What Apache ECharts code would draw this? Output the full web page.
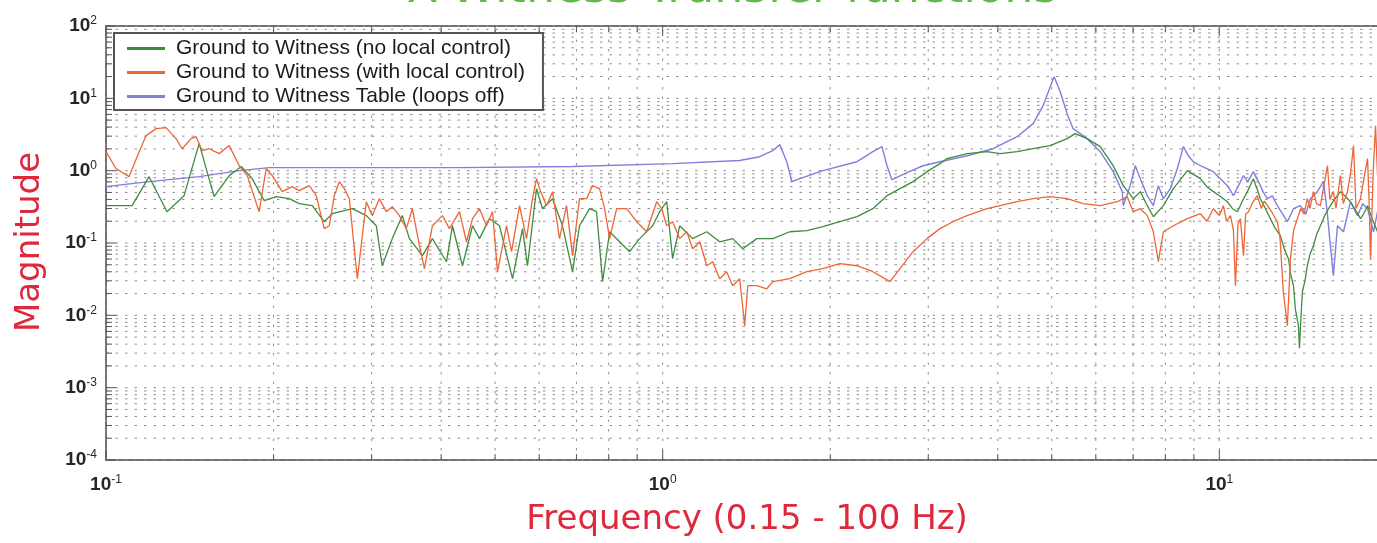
<!DOCTYPE html>
<html>
<head>
<meta charset="utf-8">
<script src="https://cdn.jsdelivr.net/npm/echarts@6/dist/echarts.min.js"></script>
<style>
  html, body { margin: 0; padding: 0; background: #ffffff; overflow: hidden; }
  /* the plot runs on past the right edge of the page, up to 100 Hz */
  #chart { width: 1800px; height: 543px; }
</style>
</head>
<body>
<div id="chart"></div>
<script>
// ---- series names -------------------------------------------------------
const nameNoLocal = 'Ground to Witness (no local control)';
const nameLocal = 'Ground to Witness (with local control)';
const nameTable = 'Ground to Witness Table (loops off)';

// ---- Ground to Witness, no local control (Hz, magnitude) ----------------
const freqGreen = [
  0.1, 0.1114, 0.1195, 0.1287, 0.1381, 0.147, 0.1564, 0.1665, 0.175, 0.183,
  0.1924, 0.2022, 0.2134, 0.2224, 0.2347, 0.2466, 0.255, 0.277, 0.2935, 0.3059,
  0.3135, 0.3268, 0.3407, 0.3508, 0.3702, 0.3858, 0.4089, 0.4192, 0.4369, 0.4554,
  0.4688, 0.4886, 0.5092, 0.5374, 0.5601, 0.5717, 0.5935, 0.6084, 0.6341, 0.6608,
  0.6888, 0.709, 0.7391, 0.7608, 0.78, 0.803, 0.837, 0.8722, 0.9092, 0.9594,
  0.9876, 1.017, 1.042, 1.073, 1.132, 1.2, 1.266, 1.336, 1.393, 1.476,
  1.577, 1.692, 1.816, 1.94, 2.081, 2.234, 2.386, 2.529, 2.669, 2.817,
  2.984, 3.149, 3.241, 3.522, 3.825, 4.037, 4.333, 4.629, 4.966, 5.328,
  5.508, 5.788, 6.109, 6.447, 6.721, 7.005, 7.212, 7.424, 7.611, 7.933,
  8.268, 8.761, 9.245, 9.5, 9.755, 10.0, 10.34, 10.55, 10.78, 11.0,
  11.23, 11.51, 11.7, 11.85, 12.1, 12.35, 12.6, 12.87, 13.1, 13.31,
  13.45, 13.59, 13.7, 13.87, 13.93, 14.0, 14.1, 14.25, 14.39, 14.55,
  14.76, 14.95, 15.19, 15.5, 15.83, 16.1, 16.5, 16.8, 17.2, 17.5,
  17.93, 18.2, 18.46, 18.8, 19.24
];
const magGreen = [
  0.328, 0.328, 0.826, 0.271, 0.451, 2.36, 0.437, 0.853, 1.14, 0.775,
  0.385, 0.437, 0.41, 0.35, 0.328, 0.197, 0.254, 0.298, 0.239, 0.173,
  0.0485, 0.115, 0.239, 0.115, 0.0668, 0.115, 0.0551, 0.173, 0.0485, 0.173,
  0.115, 0.217, 0.173, 0.0321, 0.158, 0.0485, 0.564, 0.298, 0.41, 0.173,
  0.0401, 0.173, 0.298, 0.271, 0.0292, 0.143, 0.104, 0.0758, 0.115, 0.173,
  0.271, 0.372, 0.0607, 0.173, 0.115, 0.143, 0.104, 0.115, 0.0834, 0.115,
  0.115, 0.143, 0.148, 0.168, 0.197, 0.231, 0.298, 0.451, 0.564, 0.705,
  0.969, 1.25, 1.47, 1.72, 1.83, 1.72, 1.83, 2.01, 2.22, 2.77,
  3.25, 2.77, 2.15, 1.17, 0.621, 0.41, 0.513, 0.328, 0.231, 0.328,
  0.564, 1.0, 0.775, 0.6, 0.513, 0.45, 0.372, 0.3, 0.271, 0.38,
  0.513, 0.775, 0.55, 0.41, 0.3, 0.217, 0.16, 0.126, 0.08, 0.0607,
  0.035, 0.0257, 0.012, 0.00718, 0.0035, 0.008, 0.0212, 0.03, 0.0485, 0.07,
  0.0918, 0.13, 0.173, 0.25, 0.328, 0.4, 0.513, 0.45, 0.372, 0.3,
  0.217, 0.26, 0.328, 0.22, 0.143
];

// ---- Ground to Witness, with local control ------------------------------
const freqOrange = [
  0.1, 0.1042, 0.11, 0.1147, 0.118, 0.123, 0.1282, 0.1336, 0.137, 0.1422,
  0.1452, 0.1488, 0.1532, 0.1597, 0.1665, 0.1735, 0.1794, 0.1884, 0.194, 0.1989,
  0.2073, 0.216, 0.2224, 0.2318, 0.2386, 0.2466, 0.2518, 0.2571, 0.2625, 0.268,
  0.2736, 0.2828, 0.2935, 0.3009, 0.3097, 0.3188, 0.3268, 0.3365, 0.3463, 0.3551,
  0.3656, 0.3733, 0.3858, 0.4021, 0.414, 0.4315, 0.4442, 0.4554, 0.4688, 0.4825,
  0.4947, 0.505, 0.5242, 0.5352, 0.5532, 0.5693, 0.5837, 0.5935, 0.6009, 0.6185,
  0.6341, 0.6527, 0.6719, 0.6888, 0.709, 0.73, 0.7483, 0.7703, 0.7865, 0.803,
  0.8266, 0.8616, 0.898, 0.936, 0.9754, 0.9958, 1.017, 1.042, 1.073, 1.105,
  1.132, 1.166, 1.2, 1.23, 1.266, 1.303, 1.336, 1.375, 1.404, 1.422,
  1.476, 1.538, 1.577, 1.692, 1.816, 1.94, 2.081, 2.234, 2.386, 2.561,
  2.669, 2.817, 2.984, 3.149, 3.324, 3.522, 3.825, 4.037, 4.333, 4.629,
  4.966, 5.328, 5.693, 6.109, 6.555, 6.833, 7.005, 7.212, 7.424, 7.611,
  7.77, 7.933, 8.268, 8.761, 9.245, 9.5, 9.755, 10.0, 10.17, 10.3,
  10.47, 10.6, 10.69, 10.8, 10.91, 11.05, 11.15, 11.28, 11.45, 11.7,
  11.9, 12.05, 12.2, 12.45, 12.71, 12.85, 13.03, 13.25, 13.42, 13.6,
  13.81, 14.0, 14.2, 14.39, 14.55, 14.76, 14.95, 15.19, 15.4, 15.64,
  15.8, 16.03, 16.2, 16.5, 16.7, 16.99, 17.2, 17.42, 17.6, 17.93,
  18.2, 18.46, 18.6, 18.69, 18.9, 19.08, 19.24
];
const magOrange = [
  1.83, 1.07, 0.826, 1.83, 3.05, 3.81, 3.93, 2.77, 2.01, 2.77,
  2.95, 1.89, 2.01, 1.72, 2.22, 1.17, 0.853, 0.271, 1.07, 0.853,
  0.513, 0.601, 0.529, 0.621, 0.451, 0.158, 0.173, 0.451, 0.705, 0.564,
  0.41, 0.0321, 0.372, 0.239, 0.41, 0.271, 0.318, 0.239, 0.158, 0.298,
  0.0918, 0.0441, 0.173, 0.239, 0.158, 0.271, 0.104, 0.217, 0.298, 0.173,
  0.271, 0.0401, 0.173, 0.0758, 0.328, 0.115, 0.41, 0.775, 0.564, 0.328,
  0.513, 0.115, 0.328, 0.0668, 0.41, 0.41, 0.621, 0.564, 0.298, 0.115,
  0.298, 0.298, 0.197, 0.143, 0.372, 0.298, 0.173, 0.197, 0.115, 0.143,
  0.0834, 0.104, 0.0485, 0.0551, 0.0321, 0.0401, 0.0257, 0.0321, 0.00718, 0.0257,
  0.0257, 0.0233, 0.0292, 0.0321, 0.0401, 0.0441, 0.0517, 0.0485, 0.0401, 0.0292,
  0.0441, 0.0758, 0.115, 0.158, 0.197, 0.239, 0.298, 0.328, 0.372, 0.41,
  0.437, 0.41, 0.35, 0.328, 0.372, 0.437, 0.271, 0.298, 0.239, 0.143,
  0.0551, 0.143, 0.173, 0.217, 0.254, 0.2, 0.298, 0.24, 0.328, 0.2,
  0.239, 0.15, 0.0257, 0.18, 0.217, 0.0668, 0.25, 0.271, 0.35, 0.451,
  0.3, 0.38, 0.328, 0.26, 0.197, 0.12, 0.0212, 0.00718, 0.0607, 0.15,
  0.217, 0.3, 0.25, 0.41, 0.3, 0.513, 0.35, 0.328, 0.6, 1.17,
  0.4, 0.513, 0.3, 0.853, 0.35, 0.513, 0.9, 2.22, 0.3, 0.41,
  0.8, 1.47, 0.3, 0.0607, 1.0, 4.19, 0.853
];

// ---- Ground to Witness Table, loops off ---------------------------------
const freqBlue = [
  0.1, 0.1195, 0.147, 0.1735, 0.1965, 0.4315, 0.689, 1.042, 1.375, 1.494,
  1.577, 1.623, 1.671, 1.706, 1.764, 1.94, 2.234, 2.386, 2.477, 2.529,
  2.582, 2.747, 2.935, 3.149, 3.522, 3.922, 4.333, 4.629, 4.825, 5.008,
  5.049, 5.176, 5.328, 5.462, 5.788, 6.109, 6.447, 6.693, 6.721, 6.918,
  7.063, 7.212, 7.424, 7.611, 7.77, 7.933, 8.166, 8.406, 8.618, 8.797,
  8.981, 9.245, 9.755, 10.0, 10.34, 10.6, 10.8, 11.05, 11.25, 11.51,
  11.85, 12.0, 12.2, 12.45, 12.71, 13.0, 13.25, 13.59, 13.98, 14.3,
  14.57, 15.0, 15.38, 15.6, 15.83, 16.03, 16.3, 16.71, 17.0, 17.2,
  17.71, 18.1, 18.46, 18.92, 19.24
];
const magBlue = [
  0.601, 0.705, 0.826, 1.0, 1.10, 1.10, 1.14, 1.25, 1.38, 1.56,
  1.89, 2.29, 1.33, 0.705, 0.775, 1.0, 1.33, 1.83, 2.15, 1.17,
  0.751, 0.938, 1.17, 1.33, 1.61, 2.01, 2.95, 4.47, 7.93, 17.0,
  19.95, 12.4, 6.14, 3.81, 2.77, 1.83, 0.969, 0.513, 0.328, 0.621,
  1.17, 0.775, 0.451, 0.328, 0.621, 0.41, 0.564, 1.07, 2.15, 1.61,
  1.33, 1.17, 0.969, 0.8, 0.621, 0.451, 0.6, 0.853, 0.7, 0.969,
  0.621, 0.5, 0.41, 0.45, 0.328, 0.25, 0.197, 0.298, 0.328, 0.25,
  0.41, 0.513, 0.705, 0.3, 0.0918, 0.0353, 0.173, 0.143, 0.25, 0.372,
  0.239, 0.35, 0.298, 0.143, 0.271
];

// ---- axes ---------------------------------------------------------------
const X_MIN = 0.1, X_MAX = 100;
const Y_MIN = 1e-4, Y_MAX = 1e2;
const xTickValues = [0.1, 1, 10, 100];
const yTickValues = [1e-4, 1e-3, 1e-2, 1e-1, 1, 10, 100];

// grid / tick positions: 1..9 times every decade
function decadeSteps(lo, hi) {
  const out = [];
  for (let d = lo; d < hi * 0.999; d *= 10) {
    for (let k = 1; k <= 9; k++) out.push(+(d * k).toPrecision(6));
  }
  out.push(hi);
  return out;
}
const xGridValues = decadeSteps(X_MIN, X_MAX);
const yGridValues = decadeSteps(Y_MIN, Y_MAX);

function pairs(fs, ms) { return fs.map((f, i) => [f, ms[i]]); }

const GRID_DOT = { stroke: '#8e8e8e', lineWidth: 1, lineDash: [2.5, 7] };
const TICK = { stroke: '#555555', lineWidth: 1 };
function isDecade(v) { return Math.abs(Math.log10(v) - Math.round(Math.log10(v))) < 1e-6; }

function renderXGrid(params, api) {
  const v = api.value(0);
  const b = api.coord([v, Y_MIN]);
  const t = api.coord([v, Y_MAX]);
  const len = isDecade(v) ? 10 : 6;
  return {
    type: 'group',
    children: [
      { type: 'line', shape: { x1: b[0], y1: b[1], x2: t[0], y2: t[1] }, style: GRID_DOT },
      { type: 'line', shape: { x1: b[0], y1: b[1], x2: b[0], y2: b[1] - len }, style: TICK },
      { type: 'line', shape: { x1: t[0], y1: t[1], x2: t[0], y2: t[1] + len }, style: TICK }
    ]
  };
}
function renderYGrid(params, api) {
  const v = api.value(1);
  const l = api.coord([X_MIN, v]);
  const r = api.coord([X_MAX, v]);
  const len = isDecade(v) ? 10 : 6;
  return {
    type: 'group',
    children: [
      { type: 'line', shape: { x1: l[0], y1: l[1], x2: r[0], y2: r[1] }, style: GRID_DOT },
      { type: 'line', shape: { x1: l[0], y1: l[1], x2: l[0] + len, y2: l[1] }, style: TICK }
    ]
  };
}

function powerLabel(value) {
  const e = Math.round(Math.log10(value));
  return '{b|10}{e|' + e + '}';
}
const powerRich = {
  b: { fontSize: 19, fontWeight: 'bold', color: '#262626', fontFamily: 'Liberation Sans' },
  e: { fontSize: 12, color: '#262626', fontFamily: 'Liberation Sans', verticalAlign: 'bottom', padding: [0, 0, 10, 0] }
};

const chart = echarts.init(document.getElementById('chart'), null, { renderer: 'canvas' });
chart.setOption({
  animation: false,
  backgroundColor: '#ffffff',
  grid: {
    left: 106, top: 26, bottom: 83, right: 24,
    show: true, borderColor: '#727272', borderWidth: 2, backgroundColor: 'transparent'
  },
  xAxis: {
    type: 'log', logBase: 10, min: X_MIN, max: X_MAX, interval: 1,
    axisLine: { show: false }, axisTick: { show: false },
    splitLine: { show: false }, minorTick: { show: false }, minorSplitLine: { show: false },
    axisLabel: {
      margin: 14, formatter: powerLabel, rich: powerRich,
      customValues: xTickValues
    }
  },
  yAxis: {
    type: 'log', logBase: 10, min: Y_MIN, max: Y_MAX, interval: 1,
    axisLine: { show: false }, axisTick: { show: false },
    splitLine: { show: false }, minorTick: { show: false }, minorSplitLine: { show: false },
    axisLabel: {
      margin: 9, formatter: powerLabel, rich: powerRich,
      customValues: yTickValues
    }
  },
  legend: {
    data: [nameNoLocal, nameLocal, nameTable],
    orient: 'vertical', left: 114, top: 33,
    backgroundColor: '#ffffff', borderColor: '#555555', borderWidth: 2, borderRadius: 0,
    padding: [5, 18, 3, 13], itemGap: 3,
    itemWidth: 38, itemHeight: 3, icon: 'rect',
    textStyle: { fontSize: 21, color: '#1c1c1c', fontFamily: 'Liberation Sans', padding: [0, 0, 0, 6] },
    z: 10
  },
  series: [
    { type: 'custom', name: 'xgrid', silent: true, z: 1, renderItem: renderXGrid,
      data: xGridValues.map(v => [v, 1]) },
    { type: 'custom', name: 'ygrid', silent: true, z: 1, renderItem: renderYGrid,
      data: yGridValues.map(v => [1, v]) },
    { type: 'line', name: nameTable, data: pairs(freqBlue, magBlue), showSymbol: false, z: 3,
      color: '#7f7fdc', lineStyle: { width: 1.4, color: '#7f7fdc' } },
    { type: 'line', name: nameNoLocal, data: pairs(freqGreen, magGreen), showSymbol: false, z: 4,
      color: '#3f8c3f', lineStyle: { width: 1.3, color: '#3f8c3f' } },
    { type: 'line', name: nameLocal, data: pairs(freqOrange, magOrange), showSymbol: false, z: 5,
      color: '#ef6436', lineStyle: { width: 1.3, color: '#ef6436' } }
  ],
  graphic: [
    { type: 'text', x: 732, y: -10, silent: true,
      style: { text: 'X-Witness Transfer functions', fill: '#63b84b', font: '46px "DejaVu Sans"',
               textAlign: 'center', textVerticalAlign: 'middle', align: 'center', verticalAlign: 'middle' } },
    { type: 'text', x: 30, y: 242, rotation: Math.PI / 2, silent: true,
      style: { text: 'Magnitude', fill: '#e0283c', font: '34px "DejaVu Sans"',
               textAlign: 'center', textVerticalAlign: 'middle', align: 'center', verticalAlign: 'middle' } },
    { type: 'text', x: 747, y: 520, silent: true,
      style: { text: 'Frequency (0.15 - 100 Hz)', fill: '#e0283c', font: '34px "DejaVu Sans"',
               textAlign: 'center', textVerticalAlign: 'middle', align: 'center', verticalAlign: 'middle' } }
  ]
});
</script>
</body>
</html>
